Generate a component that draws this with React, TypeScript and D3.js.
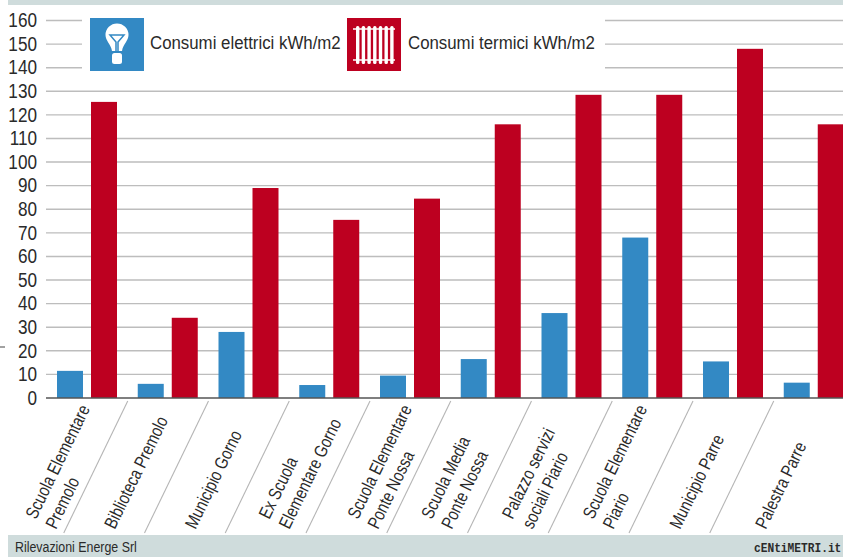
import React, { useEffect, useRef } from "react";
import * as d3 from "d3";

const categories = [
  ["Scuola Elementare", "Premolo"],
  ["Biblioteca Premolo"],
  ["Municipio Gorno"],
  ["Ex Scuola", "Elementare Gorno"],
  ["Scuola Elementare", "Ponte Nossa"],
  ["Scuola Media", "Ponte Nossa"],
  ["Palazzo servizi", "sociali Piario"],
  ["Scuola Elementare", "Piario"],
  ["Municipio Parre"],
  ["Palestra Parre"],
];
const elettrici = [11.5, 6, 28, 5.5, 9.5, 16.5, 36, 68, 15.5, 6.5];
const termici = [125.5, 34, 89, 75.5, 84.5, 116, 128.5, 128.5, 148, 116];
const yTicks = d3.range(0, 161, 10);

// spostamento a mano delle etichette, come nell'originale
const labelNudge = [-1, 0, 0, -10, -2, -9, -9, -9, 0, 5];

const BLUE = "#3389c4";
const RED = "#bd0020";
const STRIP = "#cfdcdc";
const FONT = "'Liberation Sans', sans-serif";

const width = 843;
const height = 558;
const left = 46;
const step = 80.75;
const y0 = 398;
const y160 = 20.5;

const App: React.FC = () => {
  const svgRef = useRef<SVGSVGElement>(null);

  useEffect(() => {
    if (!svgRef.current) return;
    const svg = d3.select(svgRef.current);
    svg.selectAll("*").remove();

    const ids = categories.map((_, i) => String(i));
    const x = d3
      .scaleBand<string>()
      .domain(ids)
      .range([left, left + step * ids.length]);
    const inner = d3
      .scaleBand<string>()
      .domain(["elettrici", "termici"])
      .range([11, 71])
      .paddingInner(8 / 34);
    const y = d3.scaleLinear().domain([0, 160]).range([y0, y160]);

    svg
      .append("rect")
      .attr("x", 8)
      .attr("y", 0)
      .attr("width", width - 8)
      .attr("height", 5)
      .attr("fill", STRIP);
    svg
      .append("rect")
      .attr("x", 8)
      .attr("y", 535)
      .attr("width", width - 8)
      .attr("height", 22)
      .attr("fill", STRIP);

    // griglia
    svg
      .append("g")
      .selectAll("line")
      .data(yTicks.filter((d) => d > 0))
      .join("line")
      .attr("x1", left)
      .attr("x2", width)
      .attr("y1", (d) => y(d))
      .attr("y2", (d) => y(d))
      .attr("stroke", "#bdbdbd")
      .attr("stroke-width", 1.4);

    // spazio bianco per la legenda
    svg
      .append("rect")
      .attr("x", 82)
      .attr("y", 12)
      .attr("width", 523)
      .attr("height", 62)
      .attr("fill", "#fff");

    const axis = svg
      .append("g")
      .attr("transform", `translate(${left - 1},0)`)
      .call(d3.axisLeft(y).tickValues(yTicks).tickSize(0).tickPadding(8));
    axis.select(".domain").remove();
    axis
      .selectAll("text")
      .attr("x", 0)
      .attr("transform", "translate(-8,0) scale(0.88,1)")
      .attr("font-family", FONT)
      .attr("font-size", 19.5)
      .attr("fill", "#2a2a2a");

    const groups = svg
      .append("g")
      .selectAll("g")
      .data(ids)
      .join("g")
      .attr("transform", (d) => `translate(${x(d)},0)`);
    groups
      .append("rect")
      .attr("x", inner("elettrici")!)
      .attr("width", inner.bandwidth())
      .attr("y", (_, i) => y(elettrici[i]))
      .attr("height", (_, i) => y0 - y(elettrici[i]))
      .attr("fill", BLUE);
    groups
      .append("rect")
      .attr("x", inner("termici")!)
      .attr("width", inner.bandwidth())
      .attr("y", (_, i) => y(termici[i]))
      .attr("height", (_, i) => y0 - y(termici[i]))
      .attr("fill", RED);

    svg
      .append("line")
      .attr("x1", left)
      .attr("x2", width)
      .attr("y1", y0)
      .attr("y2", y0)
      .attr("stroke", "#555")
      .attr("stroke-width", 1.6);

    // separatori obliqui
    svg
      .append("g")
      .selectAll("line")
      .data(ids.slice(1))
      .join("line")
      .attr("x1", (d) => x(d)! + 1)
      .attr("y1", 401)
      .attr("x2", (d) => x(d)! - 63)
      .attr("y2", 533)
      .attr("stroke", "#b5b5b5")
      .attr("stroke-width", 1.1);

    // etichette ruotate
    const labels = svg
      .append("g")
      .selectAll("g")
      .data(categories)
      .join("g")
      .attr("transform", (_, i) => `translate(${x(ids[i])! - 12 + labelNudge[i]},0)`);
    labels.each(function (lines) {
      const g = d3.select(this);
      lines.forEach((line, j) => {
        const fromLast = lines.length - 1 - j;
        g.append("text")
          .attr(
            "transform",
            `translate(${-fromLast * 20 + (lines.length > 1 ? 23 : 0)},${530 - fromLast * 10}) rotate(-64) scale(0.815,1)`,
          )
          .attr("font-family", FONT)
          .attr("font-size", 18)
          .attr("fill", "#2a2a2a")
          .text(line);
      });
    });

    // legenda
    const legend = [
      { x: 90, color: BLUE, label: "Consumi elettrici kWh/m2", tx: 150 },
      { x: 347, color: RED, label: "Consumi termici kWh/m2", tx: 408 },
    ];
    svg
      .append("g")
      .selectAll("rect")
      .data(legend)
      .join("rect")
      .attr("x", (d) => d.x)
      .attr("y", 18)
      .attr("width", 54)
      .attr("height", 53)
      .attr("fill", (d) => d.color);
    svg
      .append("g")
      .selectAll("text")
      .data(legend)
      .join("text")
      .attr("transform", (d) => `translate(${d.tx},49) scale(0.91,1)`)
      .attr("font-family", FONT)
      .attr("font-size", 18.5)
      .attr("fill", "#2a2a2a")
      .text((d) => d.label);

    // icona lampadina
    const bulb = svg.append("g").attr("transform", "translate(117,36)");
    bulb
      .append("path")
      .attr(
        "d",
        "M-5,15 C-6,8 -11.5,5 -11.5,-1 A11.5,11.5 0 0 1 11.5,-1 C11.5,5 6,8 5,15 Z",
      )
      .attr("fill", "#fff");
    bulb
      .append("rect")
      .attr("x", -5)
      .attr("y", 17)
      .attr("width", 10)
      .attr("height", 11)
      .attr("rx", 2.5)
      .attr("fill", "#fff");
    bulb
      .append("path")
      .attr("d", "M-7,-1 H7 L1,6 V16 H-1 V6 Z")
      .attr("fill", "none")
      .attr("stroke", BLUE)
      .attr("stroke-width", 1.5);

    // icona termosifone
    const rad = svg.append("g").attr("transform", "translate(347,0)");
    rad
      .selectAll("rect")
      .data(d3.range(7))
      .join("rect")
      .attr("x", (d) => 9 + d * 5.7)
      .attr("y", 26)
      .attr("width", 3.4)
      .attr("height", 38)
      .attr("rx", 1.5)
      .attr("fill", "#fff");
    rad
      .selectAll("line")
      .data([29, 60])
      .join("line")
      .attr("x1", 6)
      .attr("x2", 48)
      .attr("y1", (d) => d)
      .attr("y2", (d) => d)
      .attr("stroke", "#fff")
      .attr("stroke-width", 1.6);

    // piede
    svg
      .append("text")
      .attr("transform", "translate(15,552) scale(0.8,1)")
      .attr("font-family", FONT)
      .attr("font-size", 15.5)
      .attr("fill", "#2a2a2a")
      .text("Rilevazioni Energe Srl");
    svg
      .append("text")
      .attr("transform", "translate(754,552) scale(0.83,1)")
      .attr("font-family", "'Liberation Mono', monospace")
      .attr("font-size", 13.5)
      .attr("font-weight", "bold")
      .attr("fill", "#2a2a2a")
      .text("cENtiMETRI.it");

    svg
      .append("line")
      .attr("x1", 0)
      .attr("x2", 5)
      .attr("y1", 347)
      .attr("y2", 347)
      .attr("stroke", "#444")
      .attr("stroke-width", 1);
  }, []);

  return (
    <svg
      ref={svgRef}
      width={width}
      height={height}
      style={{ position: "absolute", left: 0, top: 0, display: "block", background: "#fff" }}
    />
  );
};

export default App;
